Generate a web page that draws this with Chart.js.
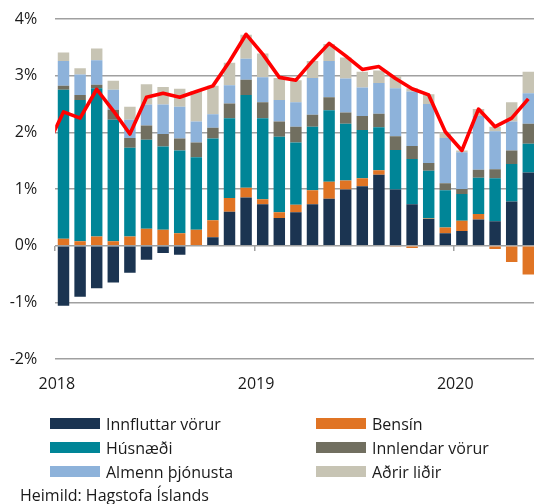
<!DOCTYPE html>
<html><head><meta charset="utf-8">
<script src="https://cdn.jsdelivr.net/npm/chart.js@4.4.1/dist/chart.umd.min.js"></script>
<style>
html,body{margin:0;padding:0;background:#fff;overflow:hidden;width:534px;height:504px;}
#wrap{position:relative;width:534px;height:504px;overflow:hidden;}
#c{position:absolute;left:0;top:0;}
.leg{position:absolute;font-family:"Open Sans",sans-serif;font-size:16px;color:#1a1a1a;white-space:nowrap;line-height:20px;height:20px;}
.leg .sw{position:absolute;left:0;top:4.5px;width:50px;height:11px;}
.leg .tx{position:absolute;left:56px;top:0;}
#src{position:absolute;left:20px;top:485px;font-family:"Open Sans",sans-serif;font-size:16px;color:#1a1a1a;line-height:20px;white-space:nowrap;}
</style>
</head><body>
<div id="wrap">
<canvas id="c" width="545" height="416"></canvas>
<div id="legend"></div>
<div id="src">Heimild: Hagstofa Íslands</div>
</div>
<script>
// Months (first entry, Dec 2017, only carries the inflation line's starting point)
const months = ['des 2017',
  'jan 2018','feb 2018','mar 2018','apr 2018','maí 2018','jún 2018','júl 2018','ágú 2018','sep 2018','okt 2018','nóv 2018','des 2018',
  'jan 2019','feb 2019','mar 2019','apr 2019','maí 2019','jún 2019','júl 2019','ágú 2019','sep 2019','okt 2019','nóv 2019','des 2019',
  'jan 2020','feb 2020','mar 2020','apr 2020','maí 2020'];

const innfluttarVorur = [null,-1.06,-0.90,-0.75,-0.65,-0.48,-0.25,-0.13,-0.16,0.00,0.15,0.60,0.85,0.73,0.49,0.59,0.73,0.83,0.99,1.05,1.25,0.99,0.73,0.47,0.22,0.26,0.46,0.43,0.78,1.29];
const bensin          = [null,0.12,0.08,0.16,0.08,0.16,0.30,0.28,0.22,0.28,0.30,0.24,0.17,0.09,0.10,0.13,0.25,0.30,0.16,0.14,0.08,-0.02,-0.04,0.01,0.10,0.18,0.10,-0.06,-0.29,-0.51];
const husnaedi        = [null,2.63,2.49,2.62,2.14,1.57,1.57,1.47,1.46,1.28,1.44,1.41,1.64,1.43,1.33,1.10,1.12,1.26,1.00,0.85,0.76,0.70,0.80,0.84,0.66,0.47,0.64,0.76,0.66,0.51];
const innlendarVorur  = [null,0.07,0.09,0.06,0.18,0.17,0.25,0.22,0.21,0.26,0.19,0.26,0.27,0.28,0.27,0.28,0.21,0.23,0.20,0.25,0.24,0.24,0.23,0.14,0.12,0.09,0.14,0.16,0.24,0.35];
const almennThjonusta = [null,0.44,0.36,0.43,0.35,0.32,0.37,0.52,0.56,0.37,0.24,0.32,0.37,0.44,0.38,0.43,0.65,0.64,0.60,0.50,0.54,0.85,0.96,1.04,0.80,0.65,0.95,0.67,0.51,0.54];
const adrirLidir      = [null,0.15,0.11,0.21,0.16,0.23,0.36,0.31,0.32,0.54,0.50,0.40,0.42,0.42,0.39,0.39,0.30,0.30,0.37,0.28,0.22,0.22,0.06,0.17,0.10,0.03,0.12,0.08,0.34,0.38];
const verdbolga       = [1.75,2.36,2.25,2.76,2.38,1.97,2.62,2.69,2.62,2.72,2.82,3.25,3.73,3.38,2.97,2.92,3.26,3.57,3.35,3.11,3.16,2.95,2.77,2.66,2.01,1.68,2.41,2.10,2.25,2.59];

const seriesNames = ['Innfluttar vörur','Bensín','Húsnæði','Innlendar vörur','Almenn þjónusta','Aðrir liðir'];
const seriesColors = ['#1b3451','#e07424','#008597','#716f60','#8db2da','#c7c4b4'];
const yearLabels = ['2018','2019','2020'];
const yTicks = [-2,-1,0,1,2,3,4];

const seriesData = [innfluttarVorur, bensin, husnaedi, innlendarVorur, almennThjonusta, adrirLidir];
const janIdx = months.map((m,i)=>m.startsWith('jan')?i:-1).filter(i=>i>=0);
const FONT = 'Open Sans';
Chart.defaults.font.family = FONT;
Chart.defaults.color = '#1a1a1a';

const datasets = seriesData.map((arr,k)=>({
  type:'bar', label:seriesNames[k],
  data:arr.map((v,i)=>({x:i,y:v})),
  backgroundColor:seriesColors[k], borderWidth:0,
  stack:'s', order:1, barPercentage:0.69, categoryPercentage:1
}));
datasets.push({
  type:'line', label:'Verðbólga',
  data:verdbolga.map((v,i)=>({x:i,y:v})),
  borderColor:'#ff0000', borderWidth:3.6, pointRadius:0, tension:0,
  borderJoinStyle:'round', stack:'line', order:0
});

const GRID = '#a0a0a0';
const lo = 0.5, hi = months.length - 0.5;
const chart = new Chart(document.getElementById('c'), {
  type:'bar',
  data:{datasets},
  options:{
    responsive:false, animation:false,
    layout:{padding:{top:19,right:8.4,bottom:13.8,left:0}},
    plugins:{legend:{display:false}, tooltip:{enabled:false}},
    scales:{
      x:{type:'linear', min:lo, max:hi, stacked:true, bounds:'data', offset:false, grace:0,
         grid:{display:false, offset:false}, border:{display:false},
         ticks:{autoSkip:false, maxRotation:0, padding:8, font:{size:16}, color:'#1a1a1a',
                callback:(v,i)=>yearLabels[i]},
         afterBuildTicks:s=>{ s.ticks = janIdx.map(i=>({value:i-0.4})); },
         afterFit:s=>{ s.paddingLeft = 0; s.paddingRight = 0; }},
      x2:{type:'linear', axis:'x', position:{y:0}, min:lo, max:hi, bounds:'data', offset:false,
         grid:{drawOnChartArea:false, drawTicks:true, tickLength:5, color:GRID, lineWidth:1.5, offset:false},
         border:{display:false}, ticks:{display:false},
         afterBuildTicks:s=>{ s.ticks = janIdx.map(i=>({value:i-0.5})); }},
      y:{stacked:true, min:yTicks[0], max:yTicks[yTicks.length-1],
         grid:{color:GRID, lineWidth:1.5, drawTicks:false}, border:{display:false},
         ticks:{padding:18, font:{size:16}, color:'#1a1a1a', callback:v=>v+'%'},
         afterBuildTicks:s=>{ s.ticks = yTicks.map(v=>({value:v})); },
         afterFit:s=>{ s.width = 55.2; s.paddingTop = 0; s.paddingBottom = 0; }}
    }
  }
});

// HTML legend, 2 columns x 3 rows, built from the chart's bar datasets
const legendEl = document.getElementById('legend');
const colX = [50, 316], rowY = [413.5, 437.7, 461.5];
chart.data.datasets.filter(d=>d.type==='bar').forEach((d,i)=>{
  const it = document.createElement('div');
  it.className = 'leg';
  it.style.left = colX[i%2] + 'px';
  it.style.top = rowY[Math.floor(i/2)] + 'px';
  it.innerHTML = '<span class="sw" style="background:'+d.backgroundColor+'"></span><span class="tx"></span>';
  it.querySelector('.tx').textContent = d.label;
  legendEl.appendChild(it);
});
</script>
</body></html>
